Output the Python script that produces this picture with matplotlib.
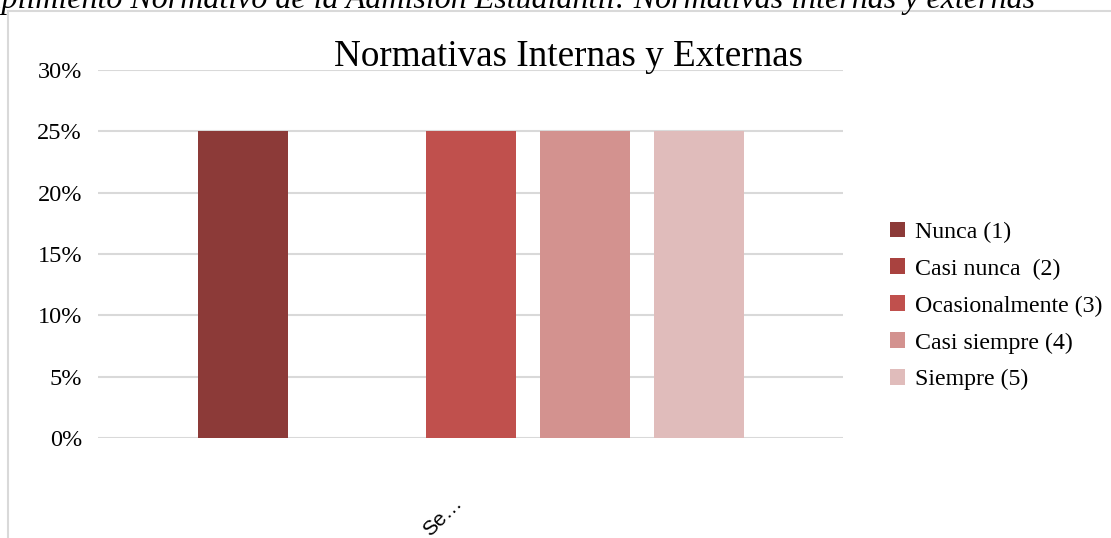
import matplotlib
matplotlib.use('Agg')
import matplotlib.pyplot as plt
from matplotlib.lines import Line2D
from matplotlib.ticker import PercentFormatter
from matplotlib.transforms import ScaledTranslation

plt.rcParams['font.family'] = ['Liberation Serif', 'DejaVu Serif']

categories = ['Se…']
series = ['Nunca (1)', 'Casi nunca  (2)', 'Ocasionalmente (3)', 'Casi siempre (4)', 'Siempre (5)']
values = [0.25, 0.0, 0.25, 0.25, 0.25]
colors = ['#8C3A38', '#A9423F', '#C0504D', '#D3928F', '#E0BCBB']

W, H = 1111, 538
fig = plt.figure(figsize=(W / 100, H / 100), dpi=100)

# outer chart frame (top and left edges only, the rest is cropped)
fig.add_artist(Line2D([8 / W, 8 / W], [0, 1 - 11 / H], transform=fig.transFigure,
                      color='#D9D9D9', lw=1.5))
fig.add_artist(Line2D([8 / W, 1], [1 - 11 / H, 1 - 11 / H], transform=fig.transFigure,
                      color='#D9D9D9', lw=1.5))

# caption above the chart, mostly cut off
fig.text(1035 / W, 1 - 8 / H, 'Cumplimiento Normativo de la Admisión Estudiantil: Normativas internas y externas',
         ha='right', va='baseline', fontsize=23, style='italic')

ax = fig.add_axes([98 / W, 1 - 438 / H, (843 - 98) / W, (438 - 70) / H])

pitch = 114 / 745
width = 90 / 745
for i, (name, v, c) in enumerate(zip(series, values, colors)):
    ax.bar(0 + (i - 2) * pitch, v, width=width, color=c, label=name, zorder=3)

ax.set_xlim(-0.5, 0.5)
ax.set_ylim(0, 0.3)
ax.set_yticks([0, 0.05, 0.10, 0.15, 0.20, 0.25, 0.30])
ax.yaxis.set_major_formatter(PercentFormatter(1.0, decimals=0))
ax.grid(axis='y', color='#D9D9D9', lw=1.5, zorder=0)
for s in ax.spines.values():
    s.set_visible(False)
ax.tick_params(axis='both', length=0)
ax.tick_params(axis='y', pad=11.5, labelsize=17.5)

ax.set_xticks([0])
ax.set_xticklabels(categories, rotation=45, ha='right', rotation_mode='anchor',
                   fontsize=15, family=['Liberation Sans', 'DejaVu Sans'])
ax.tick_params(axis='x', pad=40)
for lab in ax.get_xticklabels():
    lab.set_transform(lab.get_transform() + ScaledTranslation(-18 / 100, 0, fig.dpi_scale_trans))

fig.text(568 / W, 1 - 57 / H, 'Normativas Internas y Externas', ha='center', va='center', fontsize=26.7)

ax.legend(loc='center left', bbox_to_anchor=(878 / W, 1 - 306 / H), bbox_transform=fig.transFigure,
          frameon=False, fontsize=17.2, handlelength=0.65, handleheight=0.65, handletextpad=0.4,
          labelspacing=0.65, borderpad=0)

fig.savefig('out.png', dpi=100)
